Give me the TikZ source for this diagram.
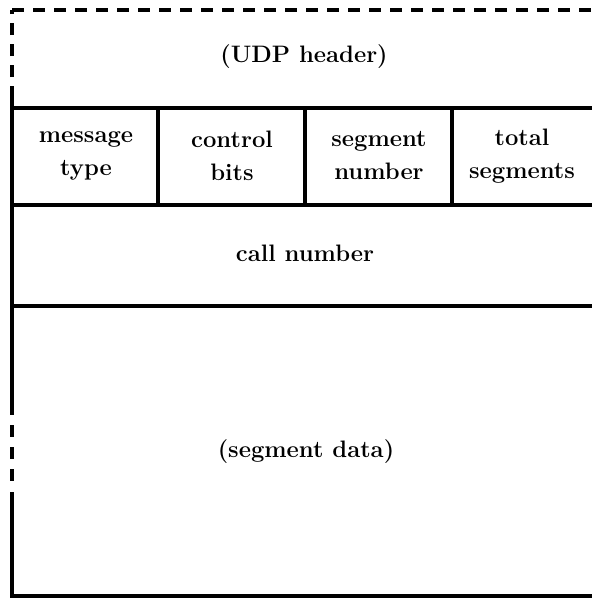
\documentclass[tikz,border=0pt]{standalone}
\usepackage{fontspec}
\begin{document}
\begin{tikzpicture}[x=1pt,y=-1pt,
  rule/.style={line width=3.2pt},
  gaprule/.style={line width=3.2pt,dash pattern=on 12pt off 9pt},
  label/.style={font=\fontsize{23.8}{33}\selectfont\bfseries,align=center,inner sep=0pt}]
  \useasboundingbox (0,0) rectangle (592,598);
  % UDP header area: dashed outline
  \draw[gaprule] (12,10) -- (592,10);
  \draw[gaprule] (12,98) -- (12,10);
  % packet fields
  \draw[rule] (12,98) -- (12,415);
  \draw[gaprule,dash pattern=on 12pt off 10pt] (12,425) -- (12,484);
  \draw[rule] (12,492) -- (12,598);
  \draw[rule] (12,108) -- (592,108);
  \draw[rule] (12,205) -- (592,205);
  \draw[rule] (12,306) -- (592,306);
  \draw[rule] (12,596) -- (592,596);
  \draw[rule] (158,108) -- (158,205);
  \draw[rule] (305,108) -- (305,205);
  \draw[rule] (452,108) -- (452,205);
  % field names
  \node[label] (udp) at (304,57) {(UDP header)};
  \node[label] (mtype) at (86,156) {message\\type};
  \node[label] (cbits) at (232,156) {control\\bits};
  \node[label] (segno) at (379,156) {segment\\number};
  \node[label] (total) at (522,156) {total\\segments};
  \node[label] (call) at (305,253) {call number};
  \node[label] (data) at (306,452) {(segment data)};
\end{tikzpicture}
\end{document}
